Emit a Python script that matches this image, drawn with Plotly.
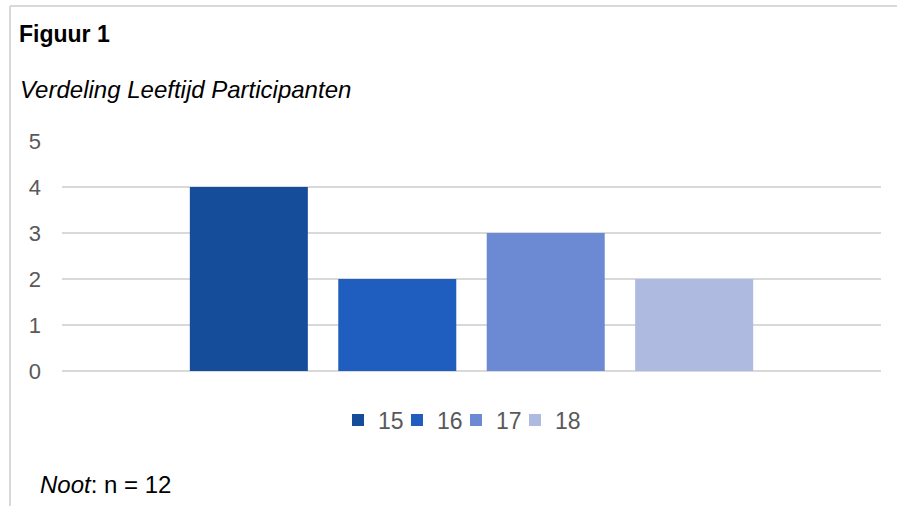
import plotly.graph_objects as go

categories = [""]
series_names = ["15", "16", "17", "18"]
series_values = [4, 2, 3, 2]
colors = ["#164D9B", "#1F5EBE", "#6C8AD3", "#AEBAE0"]
y_ticks = [0, 1, 2, 3, 4, 5]

W, H = 897, 506
L, R, T, B = 62, 881, 141, 371  # plot area in pixels


def px_x(p):
    return (p - L) / (R - L)


def px_y(p):
    return (B - p) / (B - T)


FONT = "Arial, Liberation Sans, sans-serif"

fig = go.Figure()
for name, val, col in zip(series_names, series_values, colors):
    fig.add_trace(go.Bar(x=categories, y=[val], name=name, marker_color=col,
                         marker_line_width=0))
# empty legend spacer so the last label is not clipped
fig.add_trace(go.Scatter(x=categories, y=[None], mode="none", name=" ",
                         showlegend=True, hoverinfo="skip"))

fig.update_layout(
    width=W, height=H,
    margin=dict(l=L, r=W - R, t=T, b=H - B, pad=0),
    paper_bgcolor="white", plot_bgcolor="white",
    barmode="group", bargap=0.275, bargroupgap=0.205,
    font=dict(family=FONT, color="#595959"),
    showlegend=True,
    legend=dict(orientation="h", x=px_x(338), xanchor="left",
                y=px_y(420), yanchor="middle",
                font=dict(size=23, color="#595959"),
                entrywidth=14, entrywidthmode="pixels",
                bgcolor="rgba(0,0,0,0)", traceorder="normal"),
    xaxis=dict(showticklabels=False, showgrid=False, zeroline=False,
               showline=False, fixedrange=True),
    yaxis=dict(range=[0, 5], tickvals=y_ticks, showgrid=True,
               gridcolor="#D9D9D9", gridwidth=1.5, zeroline=True,
               zerolinecolor="#D9D9D9", zerolinewidth=1.5, showline=False,
               tickfont=dict(size=22, color="#595959"),
               ticklabelstandoff=20, fixedrange=True),
)

# frame lines (top and left)
fig.add_shape(type="line", xref="paper", yref="paper",
              x0=px_x(10), x1=px_x(897), y0=px_y(6), y1=px_y(6),
              line=dict(color="#D9D9D9", width=2))
fig.add_shape(type="line", xref="paper", yref="paper",
              x0=px_x(10), x1=px_x(10), y0=px_y(6), y1=px_y(506),
              line=dict(color="#D9D9D9", width=2))

fig.add_annotation(text="<b>Figuur 1</b>", xref="paper", yref="paper",
                   x=px_x(17), y=px_y(34), xanchor="left", yanchor="middle",
                   showarrow=False, font=dict(size=23, color="black", family=FONT))
fig.add_annotation(text="<i>Verdeling Leeftijd Participanten</i>", xref="paper", yref="paper",
                   x=px_x(18), y=px_y(89), xanchor="left", yanchor="middle",
                   showarrow=False, font=dict(size=24, color="black", family=FONT))
fig.add_annotation(text="<i>Noot</i>: n = 12", xref="paper", yref="paper",
                   x=px_x(38), y=px_y(484), xanchor="left", yanchor="middle",
                   showarrow=False, font=dict(size=24, color="black", family=FONT))

fig.write_html("out.html", config=dict(displayModeBar=False),
               post_script="document.body.style.margin='0';document.body.style.overflow='hidden';")
